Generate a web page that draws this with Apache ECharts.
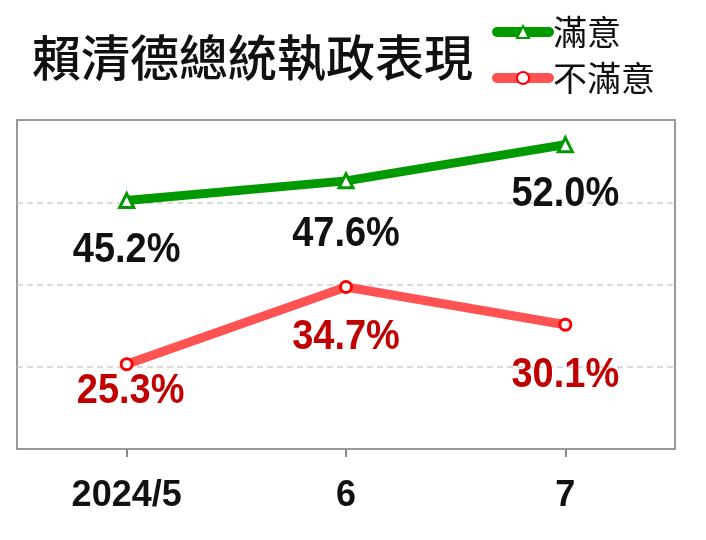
<!DOCTYPE html>
<html>
<head>
<meta charset="utf-8">
<script src="https://cdn.jsdelivr.net/npm/echarts@6/dist/echarts.min.js"></script>
<style>
html,body{margin:0;padding:0;background:#fff;}
#c{width:706px;height:540px;}
</style>
</head>
<body>
<div id="c"></div>
<script>
const titleText = '賴清德總統執政表現';
const categories = ['2024/5', '6', '7'];
const satisfiedName = '滿意';
const dissatisfiedName = '不滿意';
const satisfied = [45.2, 47.6, 52.0];
const dissatisfied = [25.3, 34.7, 30.1];

const GREEN = '#009A00';
const RED_LINE = '#FF5252';
const RED_MARK = '#FF0000';
const RED_TEXT = '#C00000';
const greenLabelDy = [50, 54, 50];
const redLabelDy = [27, 50, 51];

function labelSeries(name, values, color, dys) {
  return {
    name: name,
    type: 'custom',
    coordinateSystem: 'cartesian2d',
    silent: true,
    z: 5,
    data: values.map((v, i) => [i, v]),
    renderItem: function (params, api) {
      const p = api.coord([api.value(0), api.value(1)]);
      return {
        type: 'text',
        x: p[0] + (params.seriesName === 'dissatLabels' && params.dataIndex === 0 ? 4 : 0),
        y: p[1] + dys[params.dataIndex],
        scaleY: 1.1,
        style: {
          text: api.value(1).toFixed(1) + '%',
          fill: color,
          fontSize: 38,
          fontWeight: 'bold',
          fontFamily: 'Liberation Sans',
          align: 'center',
          verticalAlign: 'middle'
        }
      };
    }
  };
}

const chart = echarts.init(document.getElementById('c'), null, {renderer: 'canvas'});
chart.setOption({
  animation: false,
  backgroundColor: '#fff',
  title: {
    text: titleText,
    left: 27,
    top: 28,
    textStyle: {
      fontFamily: 'Noto Sans CJK TC',
      fontSize: 49,
      fontWeight: 500,
      color: '#111'
    }
  },
  legend: {
    orient: 'vertical',
    left: 487,
    top: 10,
    itemWidth: 52,
    itemHeight: 15,
    itemGap: 12,
    data: [satisfiedName, dissatisfiedName],
    lineStyle: {width: 10, cap: 'round'},
    textStyle: {
      fontFamily: 'Noto Sans CJK TC',
      fontSize: 34,
      color: '#111',
      padding: [0, 0, 0, -1]
    }
  },
  grid: {
    left: 17,
    right: 31,
    top: 120,
    bottom: 91,
    show: true,
    borderColor: '#999',
    borderWidth: 2,
    containLabel: false
  },
  xAxis: {
    type: 'category',
    data: categories,
    boundaryGap: true,
    axisLine: {show: true, lineStyle: {color: '#999', width: 2}},
    axisTick: {show: true, alignWithLabel: true, length: 8, lineStyle: {color: '#888', width: 2}},
    axisLabel: {
      margin: 29,
      fontFamily: 'Liberation Sans',
      fontWeight: 'bold',
      fontSize: 36,
      color: '#111'
    },
    splitLine: {show: false}
  },
  yAxis: [
    {
      type: 'value',
      min: 15,
      max: 55,
      axisLine: {show: false},
      axisTick: {show: false},
      axisLabel: {show: false},
      splitLine: {show: false}
    },
    {
      type: 'value',
      min: 0,
      max: 40,
      interval: 10,
      position: 'left',
      axisLine: {show: false},
      axisTick: {show: false},
      axisLabel: {show: false},
      splitLine: {show: true, showMinLine: false, showMaxLine: false, lineStyle: {color: '#cfcfcf', width: 1.5, type: [6, 4]}}
    }
  ],
  series: [
    {
      name: satisfiedName,
      type: 'line',
      yAxisIndex: 0,
      data: satisfied,
      symbol: 'triangle',
      symbolSize: 14,
      z: 3,
      lineStyle: {color: GREEN, width: 9},
      itemStyle: {color: '#fff', borderColor: GREEN, borderWidth: 3}
    },
    {
      name: dissatisfiedName,
      type: 'line',
      yAxisIndex: 0,
      data: dissatisfied,
      symbol: 'circle',
      symbolSize: 11,
      z: 3,
      lineStyle: {color: RED_LINE, width: 9},
      itemStyle: {color: '#fff', borderColor: RED_MARK, borderWidth: 3}
    },
    labelSeries('satLabels', satisfied, '#111', greenLabelDy),
    labelSeries('dissatLabels', dissatisfied, RED_TEXT, redLabelDy)
  ]
});
</script>
</body>
</html>
